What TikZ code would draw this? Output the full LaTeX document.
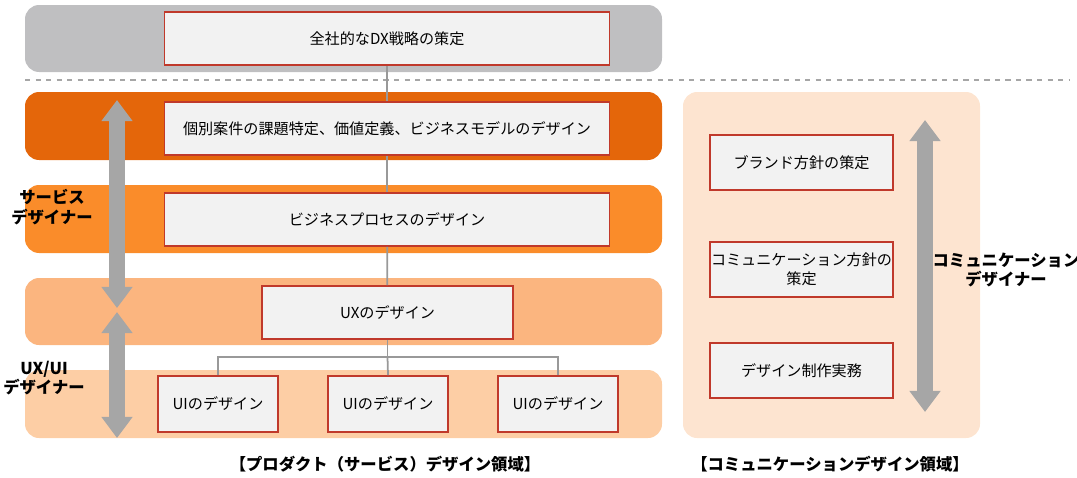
\documentclass[tikz,border=0pt]{standalone}
\usepackage{fontspec}
\setmainfont{Noto Sans CJK JP}
\usetikzlibrary{arrows.meta}
\definecolor{boxred}{HTML}{C0392B}
\definecolor{bandgray}{HTML}{BFBFC1}
\definecolor{bandA}{HTML}{E4660A}
\definecolor{bandB}{HTML}{FA8C2A}
\definecolor{bandC}{HTML}{FBB57F}
\definecolor{bandD}{HTML}{FDCEA5}
\definecolor{panel}{HTML}{FDE4D0}
\definecolor{arrowgray}{HTML}{A6A6A6}
\begin{document}
\begin{tikzpicture}[x=0.02cm,y=-0.02cm,
  band/.style={rounded corners=8pt,draw=none},
  box/.style={draw=boxred,line width=1pt,fill=white!95!black,inner sep=0pt,align=center,font=\fontsize{8.6}{11}\selectfont},
  conn/.style={draw=gray!80,line width=1pt},
  big/.style={arrowgray,line width=9pt,{Triangle[width=17pt,length=12pt]}-{Triangle[width=17pt,length=12pt]}},
  lab/.style={font=\fontsize{9.3}{11}\selectfont\bfseries,align=center}]
\useasboundingbox (0,0) rectangle (1077,477);
\fill[band,bandgray] (25,5) rectangle (662,72);
\draw[gray!70,dashed,line width=0.6pt] (25,80) -- (1070,80);
\fill[band,bandA] (25,92) rectangle (662,160);
\fill[band,bandB] (25,185) rectangle (662,253);
\fill[band,bandC] (25,278) rectangle (662,345);
\fill[band,bandD] (25,370) rectangle (662,438);
\fill[band,panel] (683,92) rectangle (980,438);

\node[box,minimum width=445*0.02cm,minimum height=53*0.02cm] (dx) at (387,38.5) {全社的なDX戦略の策定};
\node[box,minimum width=445*0.02cm,minimum height=53*0.02cm] (ko) at (387,128.5) {個別案件の課題特定、価値定義、ビジネスモデルのデザイン};
\node[box,minimum width=445*0.02cm,minimum height=53*0.02cm] (bp) at (387,219.5) {ビジネスプロセスのデザイン};
\node[box,minimum width=251*0.02cm,minimum height=53*0.02cm] (ux) at (387.5,312.5) {UXのデザイン};
\node[box,minimum width=120*0.02cm,minimum height=56*0.02cm] (ui1) at (218,404) {UIのデザイン};
\node[box,minimum width=120*0.02cm,minimum height=56*0.02cm] (ui2) at (388,404) {UIのデザイン};
\node[box,minimum width=120*0.02cm,minimum height=56*0.02cm] (ui3) at (558,404) {UIのデザイン};
\node[box,minimum width=183*0.02cm,minimum height=55*0.02cm] (br) at (801.5,162.5) {ブランド方針の策定};
\node[box,minimum width=183*0.02cm,minimum height=55*0.02cm] (cm) at (801.5,269.5) {コミュニケーション方針の\\策定};
\node[box,minimum width=183*0.02cm,minimum height=55*0.02cm] (ds) at (801.5,370.5) {デザイン制作実務};

\draw[conn] (dx) -- (ko);
\draw[conn] (ko) -- (bp);
\draw[conn] (bp) -- (ux);
\coordinate (j) at (387.5,357);
\draw[conn] (ux) -- (j);
\draw[conn] (ui1.north) |- (j) -| (ui3.north);
\draw[conn] (j) -- (ui2.north);

\coordinate (a1) at (117,100); \coordinate (a2) at (117,308);
\coordinate (a3) at (117,312); \coordinate (a4) at (117,438);
\coordinate (a5) at (925,120); \coordinate (a6) at (925,412);
\draw[big] (a1) -- (a2);
\draw[big] (a3) -- (a4);
\draw[big] (a5) -- (a6);

\node[lab] (l1) at (52,207) {サービス\\デザイナー};
\node[lab] (l2) at (44,378) {UX/UI\\デザイナー};
\node[lab] (l3) at (1006,270) {コミュニケーション\\デザイナー};
\node[lab] (l4) at (385,464) {【プロダクト（サービス）デザイン領域】};
\node[lab] (l5) at (830,464) {【コミュニケーションデザイン領域】};
\end{tikzpicture}
\end{document}
